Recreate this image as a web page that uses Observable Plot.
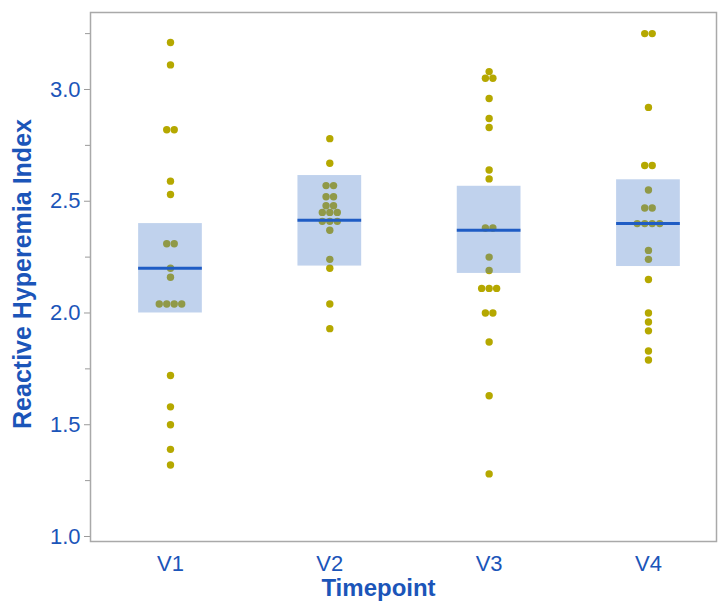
<!DOCTYPE html>
<html>
<head>
<meta charset="utf-8">
<script src="https://cdn.jsdelivr.net/npm/d3@7"></script>
<script src="https://cdn.jsdelivr.net/npm/@observablehq/plot@0.6"></script>
<style>
  body { margin: 0; background: #fff; }
  #chart svg { font-family: "Liberation Sans", Arial, sans-serif; }
  g[aria-label="y-axis tick label"], g[aria-label="y-axis tick label"] text,
  g[aria-label="x-axis tick label"], g[aria-label="x-axis tick label"] text {
    font-size: 22px; fill: #1b55b9;
  }
  g[aria-label="y-axis tick"] { stroke: #9a9a9a; }
</style>
</head>
<body>
<div id="chart"></div>
<script>
const timepoints = ["V1", "V2", "V3", "V4"];
const valuesV1 = [3.21, 3.11, 2.82, 2.82, 2.59, 2.53, 2.31, 2.31, 2.20, 2.16, 2.04, 2.04, 2.04, 2.04, 1.72, 1.58, 1.50, 1.39, 1.32];
const valuesV2 = [2.78, 2.67, 2.57, 2.57, 2.52, 2.52, 2.48, 2.48, 2.45, 2.45, 2.45, 2.41, 2.41, 2.41, 2.37, 2.24, 2.20, 2.04, 1.93];
const valuesV3 = [3.08, 3.05, 3.05, 2.96, 2.87, 2.83, 2.64, 2.60, 2.38, 2.38, 2.25, 2.19, 2.11, 2.11, 2.11, 2.00, 2.00, 1.87, 1.63, 1.28];
const valuesV4 = [3.25, 3.25, 2.92, 2.66, 2.66, 2.55, 2.47, 2.47, 2.40, 2.40, 2.40, 2.40, 2.28, 2.24, 2.15, 2.00, 1.96, 1.92, 1.83, 1.79];
const means = [2.20, 2.415, 2.37, 2.40];
const boxLow = [2.00, 2.21, 2.177, 2.208];
const boxHigh = [2.40, 2.615, 2.567, 2.596];
const yTicks = [1.0, 1.5, 2.0, 2.5, 3.0];
const yMinorTicks = [1.25, 1.75, 2.25, 2.75, 3.25];
const yTitle = "Reactive Hyperemia Index";
const xTitle = "Timepoint";

const series = [valuesV1, valuesV2, valuesV3, valuesV4];
const spacing = 0.047; // horizontal step between tied dots, in x units

const points = [];
series.forEach((vals, gi) => {
  const counts = d3.rollup(vals, v => v.length, v => v);
  const seen = new Map();
  vals.forEach(v => {
    const n = counts.get(v);
    const k = seen.get(v) || 0;
    seen.set(v, k + 1);
    points.push({group: gi + 1, value: v, pos: gi + 1 + (k - (n - 1) / 2) * spacing});
  });
});

const boxes = timepoints.map((t, i) => ({
  x1: i + 1 - 0.2, x2: i + 1 + 0.2, low: boxLow[i], high: boxHigh[i], mean: means[i]
}));

const chart = Plot.plot({
  width: 719,
  height: 601,
  marginLeft: 90,
  marginRight: 3,
  marginTop: 12,
  marginBottom: 60,
  style: {background: "white", fontFamily: "Liberation Sans, Arial, sans-serif"},
  x: {domain: [0.498, 4.427]},
  y: {domain: [0.9776, 3.3445]},
  marks: [
    Plot.axisY({ticks: yMinorTicks, tickSize: 5, tickFormat: () => "", label: null}),
    Plot.axisY({ticks: yTicks, tickSize: 6, tickPadding: 4, tickFormat: d => d.toFixed(1), label: null}),
    Plot.axisX({ticks: [1, 2, 3, 4], tickFormat: i => timepoints[i - 1], tickSize: 0,
      tickPadding: 14, label: null}),
    Plot.text([yTitle], {frameAnchor: "left", dx: -68, dy: -3, rotate: -90, text: d => d,
      fontSize: 25, fontWeight: "bold", fill: "#1b55b9", textAnchor: "middle", lineAnchor: "middle"}),
    Plot.text([xTitle], {frameAnchor: "bottom", dx: -25, dy: 47, text: d => d,
      fontSize: 24, fontWeight: "bold", fill: "#1b55b9", textAnchor: "middle", lineAnchor: "middle"}),
    Plot.dot(points, {x: "pos", y: "value", r: 3.7, fill: "#b5a800", stroke: "none"}),
    Plot.rect(boxes, {x1: "x1", x2: "x2", y1: "low", y2: "high", fill: "#4a7dcc", fillOpacity: 0.35}),
    Plot.ruleY(boxes, {y: "mean", x1: "x1", x2: "x2", stroke: "#1f5cc4", strokeWidth: 3}),
    Plot.frame({stroke: "#a9a9a9", strokeWidth: 1.5})
  ]
});
document.getElementById("chart").append(chart);
</script>
</body>
</html>
